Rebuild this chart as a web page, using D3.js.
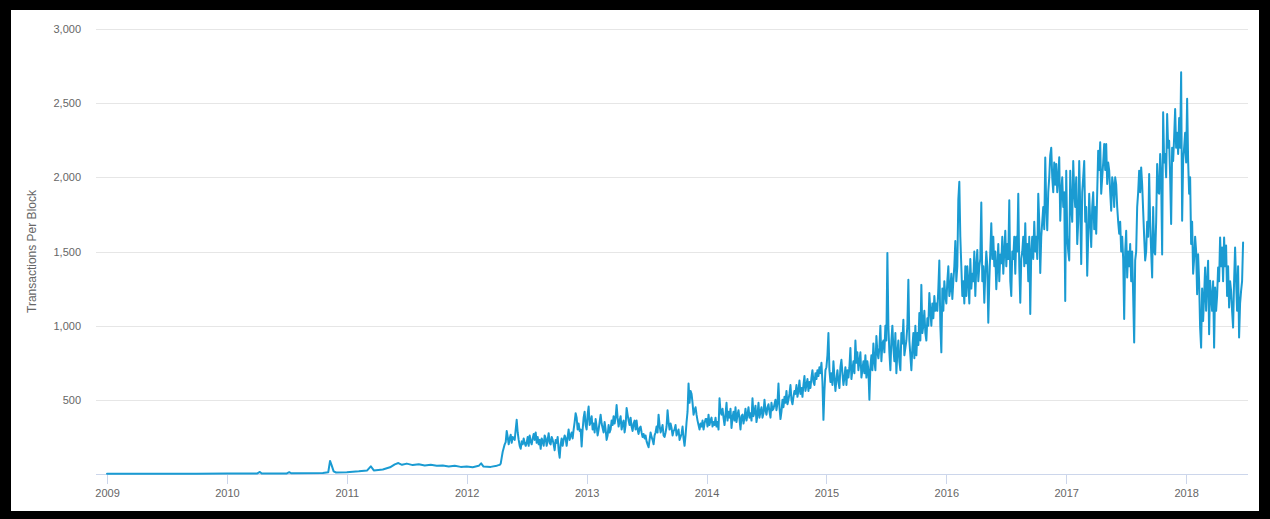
<!DOCTYPE html>
<html><head><meta charset="utf-8">
<script src="https://cdn.jsdelivr.net/npm/d3@7"></script>
<style>
html,body{margin:0;padding:0;background:#000;}
svg{display:block;}
</style></head><body>
<svg id="c" width="1270" height="519"></svg>
<script>
// ---- data ----
const xTickYears = [2009, 2010, 2011, 2012, 2013, 2014, 2015, 2016, 2017, 2018];
const yTicks = [500, 1000, 1500, 2000, 2500, 3000];
const yTitle = "Transactions Per Block";

// early period: [decimal year, transactions per block]
const early = [
[2009.00,1],[2009.25,2],[2009.50,2],[2009.75,2],[2010.00,3],[2010.25,3],[2010.275,14],[2010.29,4],
[2010.50,4],[2010.52,12],[2010.535,5],[2010.80,6],[2010.845,12],[2010.86,88],[2010.875,55],[2010.89,18],
[2010.91,10],[2011.00,12],[2011.10,18],[2011.17,24],[2011.20,52],[2011.225,24],[2011.30,30],[2011.36,45],
[2011.40,65],[2011.43,74],[2011.46,62],[2011.50,70],[2011.55,60],[2011.60,66],[2011.65,58],[2011.70,62],
[2011.75,55],[2011.80,58],[2011.85,50],[2011.90,55],[2011.95,48],[2012.00,50],[2012.05,45],[2012.10,55],
[2012.12,72],[2012.14,50],[2012.20,48]
];

// from April 2012: ten samples per month (about every three days)
const tpb2012 = [
 56, 58, 60, 62, 70,110,150,175,200,215,
290,250,200,240,265,210,250,240,230,300,
365,280,230,190,170,220,200,240,210,190,
210,250,190,260,220,200,240,270,230,280,
210,250,200,230,170,240,220,190,260,240,
190,230,275,210,200,250,230,200,160,230,
210,250,160,110,200,240,190,230,260,240,
190,250,300,230,260,280,240,300,350,410,
380,300,340,290,300,185,300,380,420,330
];
const tpb2013 = [
300,400,455,330,350,390,300,340,280,370,
320,260,300,350,400,340,310,280,350,300,
230,260,330,280,300,360,330,390,340,380,
465,380,320,360,390,300,340,360,280,330,
445,400,360,330,380,320,290,340,360,300,
360,300,270,310,320,280,250,270,240,260,
220,200,180,230,280,250,230,200,260,280,
320,280,400,330,280,300,330,260,250,280,
320,430,350,300,340,310,260,290,300,330,
260,280,300,230,250,270,320,240,190,260,
350,420,610,480,560,540,480,400,430,450,
400,360,330,300,340,320,360,300,340,370
];
const tpb2014 = [
370,320,400,330,360,380,320,350,330,380,
320,350,300,510,420,400,440,380,330,400,
480,360,420,380,440,310,380,420,360,450,
350,400,430,370,300,390,400,340,380,440,
360,400,450,380,410,360,510,390,420,460,
350,400,480,380,420,450,380,410,500,430,
400,450,470,420,380,480,430,440,470,500,
430,480,610,450,370,420,500,450,520,480,
560,470,500,540,600,500,470,520,560,540,
600,520,560,630,540,580,520,600,660,560,
600,640,560,620,580,650,700,620,600,680,
640,700,660,720,680,750,620,365,560,700
];
const tpb2015 = [
720,800,950,700,620,680,600,760,650,560,
640,700,620,580,720,770,680,600,650,720,
600,700,650,720,850,640,700,760,680,900,
750,820,700,760,820,650,700,760,680,800,
650,760,700,500,720,800,700,880,760,700,
930,820,780,850,1000,760,880,900,820,1000,
900,1490,1000,820,700,900,1000,850,760,950,
680,820,900,760,700,950,880,1040,800,850,
900,1000,1310,900,800,700,850,950,780,1000,
800,950,870,1085,900,1275,950,1000,1100,950,
900,1050,1000,1220,1100,1000,1150,1050,1200,1100,
1150,1100,1250,1440,1000,820,1250,1100,1300,1200
];
const tpb2016 = [
1150,1300,1400,1200,1250,1350,1180,1300,1400,1570,
1300,1400,1850,1970,1600,1400,1200,1300,1150,1400,
1200,1400,1300,1150,1450,1250,1350,1300,1500,1200,
1400,1510,1300,1400,1450,1830,1300,1400,1155,1350,
1500,1400,1020,1300,1500,1690,1450,1600,1400,1500,
1245,1400,1550,1300,1480,1420,1600,1350,1500,1640,
1400,1550,1450,1845,1300,1200,1500,1450,1600,1350,
1600,1500,1890,1400,1155,1450,1500,1600,1400,1690,
1420,1550,1300,1600,1078,1500,1600,1450,1700,1500,
1600,1450,1890,1700,1355,1600,1700,1800,1650,2133,
1800,1644,1900,2000,2150,2200,2000,1900,2100,1950,
2090,1900,2000,2135,1707,1900,2000,1800,1900,1167
];
const tpb2017 = [
2045,1600,1500,1440,2045,1800,1700,2110,1900,1800,
2000,1550,1700,2110,1800,1415,1900,2000,2110,1700,
1800,1336,1600,1890,1700,1530,1800,1900,1650,1800,
1620,1900,2180,2050,2236,1890,2000,2100,2225,2050,
2225,1955,2100,2045,1900,1775,2000,1950,1800,2000,
1950,1800,1700,1620,1700,1500,1600,1450,1045,1500,
1640,1325,1500,1400,1550,1300,1500,1200,886,1440,
1500,1800,1900,2045,1900,2067,1950,1775,1600,1440,
1500,1700,1600,2022,1700,1500,1325,1800,1500,1480,
1700,2090,1900,1890,2157,2000,1480,2438,2100,2157,
2000,2427,2200,2247,2000,1685,2200,2110,2270,2461,
2200,2300,2157,2400,2200,2709,1707,2110,2200,2300
];
const tpb2018 = [
2100,2530,2110,1890,2000,1550,1700,1350,1450,1600,
1505,1212,1482,1300,987,852,1250,1032,1200,1392,
1100,1300,1437,942,1302,1200,1100,1300,852,1257,
1100,1200,1392,1300,1595,1400,1527,1300,1595,1400,
1540,1200,1400,1122,1300,1235,1100,987,1300,1527,
1300,1100,1400,920,1150,1235,1300,1560
];
const yearly = [
  {year: 2012, firstMonth: 3, values: tpb2012},
  {year: 2013, firstMonth: 0, values: tpb2013},
  {year: 2014, firstMonth: 0, values: tpb2014},
  {year: 2015, firstMonth: 0, values: tpb2015},
  {year: 2016, firstMonth: 0, values: tpb2016},
  {year: 2017, firstMonth: 0, values: tpb2017},
  {year: 2018, firstMonth: 0, values: tpb2018}
];
const points = early.concat(...yearly.map(s =>
  s.values.map((v, i) => [s.year + s.firstMonth / 12 + i / 120, v])));

// ---- layout ----
const W = 1270, H = 519;
const frame = {x: 11, y: 10, w: 1248, h: 501};
const plot = {left: 96, right: 1248, top: 29, bottom: 474};

const svg = d3.select("#c");
svg.append("rect").attr("x", 0).attr("y", 0).attr("width", W).attr("height", H).attr("fill", "#000");
svg.append("rect").attr("x", frame.x).attr("y", frame.y).attr("width", frame.w).attr("height", frame.h).attr("fill", "#fff");

const x = d3.scaleLinear().domain([2008.908, 2018.516]).range([plot.left, plot.right]);
const y = d3.scaleLinear().domain([0, 3000]).range([plot.bottom, plot.top]);

const font = "'Liberation Sans', Arial, Helvetica, sans-serif";

// gridlines + y labels
const yAxis = d3.axisLeft(y).tickValues(yTicks).tickSize(-(plot.right - plot.left))
  .tickPadding(15).tickFormat(d3.format(","));
const gy = svg.append("g").attr("transform", `translate(${plot.left},0)`).call(yAxis);
gy.select(".domain").remove();
gy.selectAll(".tick line").attr("stroke", "#e6e6e6").attr("stroke-width", 1).attr("shape-rendering", "crispEdges");
gy.selectAll(".tick text").attr("fill", "#666").attr("font-size", 11).attr("font-family", font);

// x axis
const xAxis = d3.axisBottom(x).tickValues(xTickYears).tickSize(10).tickPadding(5).tickFormat(d3.format("d"));
const gx = svg.append("g").attr("transform", `translate(0,${plot.bottom})`).call(xAxis);
gx.select(".domain").attr("stroke", "#ccd6eb").attr("d", `M${plot.left},0.5H${plot.right}`).attr("shape-rendering", "crispEdges");
gx.selectAll(".tick line").attr("stroke", "#ccd6eb").attr("shape-rendering", "crispEdges");
gx.selectAll(".tick text").attr("fill", "#666").attr("font-size", 11).attr("font-family", font);

// y title
svg.append("text").attr("transform", `translate(36,${(plot.top + plot.bottom) / 2}) rotate(-90)`)
  .attr("text-anchor", "middle").attr("fill", "#666").attr("font-size", 12).attr("font-family", font)
  .text(yTitle);

// series line
const line = d3.line().x(d => x(d[0])).y(d => y(d[1]));
svg.append("path").datum(points).attr("d", line).attr("fill", "none")
  .attr("stroke", "#1a9bd2").attr("stroke-width", 2).attr("stroke-linejoin", "round").attr("stroke-linecap", "round");
</script>
</body></html>
